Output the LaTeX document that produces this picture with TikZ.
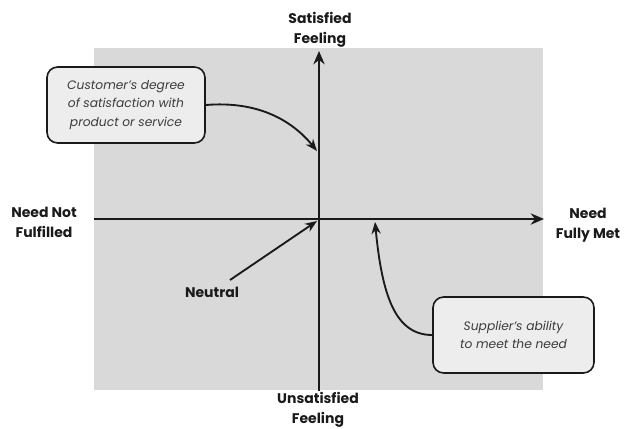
\documentclass[tikz,border=0pt]{standalone}
\usepackage{fontspec}
\setmainfont{Poppins}
\usetikzlibrary{arrows.meta}
\definecolor{panel}{HTML}{D9D9D9}
\definecolor{boxfill}{HTML}{EDEDED}
\definecolor{ink}{HTML}{1A1A1A}
\tikzset{
  axislabel/.style={font=\bfseries\fontsize{10.5}{15}\selectfont, align=center, text=ink, inner sep=0pt},
  callout/.style={draw=ink, line width=1.2pt, fill=boxfill, rounded corners=8pt, align=center,
     font=\itshape\fontsize{9.2}{13.8}\selectfont, text=ink!85, inner sep=0pt},
  axis/.style={line width=1.4pt, draw=ink, -{Stealth[length=10pt,width=8.5pt]}},
  pointer/.style={line width=1.4pt, draw=ink, -{Stealth[length=9pt,width=7pt]}},
}
\begin{document}
\begin{tikzpicture}[x=0.75pt,y=-0.75pt]
\useasboundingbox (0,0) rectangle (624,428);
\fill[panel] (94,48) rectangle (543,390);
\coordinate (L) at (94,219);
\coordinate (R) at (544,219);
\coordinate (B) at (319,391);
\coordinate (T) at (319,51);
\coordinate (O) at (317,221);
\draw[axis] (L) -- (R);
\draw[axis] (B) -- (T);
\node[axislabel] (sat) at (320,30) {Satisfied\\Feeling};
\node[axislabel] (unsat) at (318,410) {Unsatisfied\\Feeling};
\node[axislabel] (nnf) at (44,222) {Need Not\\Fulfilled};
\node[axislabel] (nfm) at (588,225) {Need\\Fully Met};
\node[axislabel] (neu) at (212,292) {Neutral};
\node[callout, minimum width=118.5pt, minimum height=57pt] (cust) at (126,105) {Customer’s degree\\of satisfaction with\\product or service};
\node[callout, minimum width=120.75pt, minimum height=57pt] (supp) at (513.5,335) {Supplier’s ability\\to meet the need};
\coordinate (ct) at (317,151);
\coordinate (st) at (375,222);
\coordinate (ns) at (230,280);
\draw[pointer] (cust.east) .. controls (255,101) and (290,118) .. (ct);
\draw[pointer] (supp.west) .. controls (395,335) and (382,295) .. (st);
\draw[pointer] (ns) -- (O);
\end{tikzpicture}
\end{document}
